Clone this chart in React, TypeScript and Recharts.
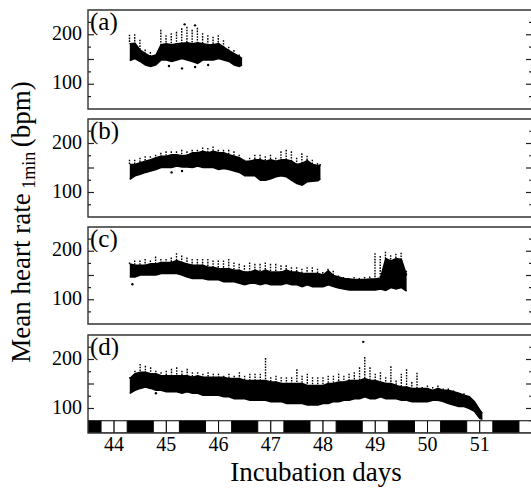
import React from 'react';
import { ComposedChart, Area, Bar, Scatter, XAxis, YAxis, ReferenceArea } from 'recharts';

const FONT = '"Liberation Serif", "Times New Roman", serif';

// panel (a)
const daysA = [44.3, 44.4, 44.5, 44.6, 44.7, 44.8, 44.9, 45.0, 45.1, 45.2, 45.3, 45.4, 45.5, 45.6, 45.7, 45.8, 45.9, 46.0, 46.1, 46.2, 46.3, 46.4, 46.45];
const lowA = [148, 152, 146, 139, 136, 139, 149, 149, 146, 149, 152, 149, 146, 142, 149, 149, 149, 152, 149, 146, 139, 136, 139];
const highA = [182, 183, 169, 162, 156, 159, 180, 182, 180, 182, 183, 184, 182, 184, 182, 180, 180, 182, 175, 168, 162, 156, 152];
const peakA = [200, 201, 190, 170, 165, 160, 210, 199, 203, 206, 213, 216, 210, 214, 203, 199, 196, 199, 189, 176, 169, 160, 152];
const outDaysA = [45.35, 45.55, 45.3, 45.55, 45.05, 45.8];
const outBpmA = [221, 219, 132, 135, 137, 139];

// panel (b)
const daysB = [44.3, 44.4, 44.5, 44.6, 44.7, 44.8, 44.9, 45.0, 45.1, 45.2, 45.3, 45.4, 45.5, 45.6, 45.7, 45.8, 45.9, 46.0, 46.1, 46.2, 46.3, 46.4, 46.5, 46.6, 46.7, 46.8, 46.9, 47.0, 47.1, 47.2, 47.3, 47.4, 47.5, 47.6, 47.7, 47.8, 47.9, 47.95];
const lowB = [127, 134, 137, 141, 144, 147, 151, 151, 151, 154, 152, 152, 151, 154, 151, 151, 151, 147, 149, 147, 144, 141, 134, 134, 134, 125, 125, 128, 132, 134, 132, 125, 118, 115, 122, 123, 124, 128];
const highB = [157, 157, 161, 164, 167, 171, 174, 174, 177, 177, 175, 176, 181, 181, 184, 181, 184, 181, 181, 177, 174, 171, 164, 164, 167, 167, 164, 167, 164, 167, 167, 164, 157, 160, 165, 157, 155, 155];
const peakB = [167, 167, 171, 174, 174, 177, 181, 184, 184, 184, 187, 184, 187, 187, 192, 191, 194, 187, 187, 187, 184, 177, 167, 171, 177, 177, 174, 177, 171, 184, 187, 184, 171, 180, 175, 167, 160, 158];
const outDaysB = [45.1, 45.3];
const outBpmB = [141, 144];

// panel (c)
const daysC = [44.3, 44.4, 44.5, 44.6, 44.7, 44.8, 44.9, 45.0, 45.1, 45.2, 45.3, 45.4, 45.5, 45.6, 45.7, 45.8, 45.9, 46.0, 46.1, 46.2, 46.3, 46.4, 46.5, 46.6, 46.7, 46.8, 46.9, 47.0, 47.1, 47.2, 47.3, 47.4, 47.5, 47.6, 47.7, 47.8, 47.9, 48.0, 48.1, 48.2, 48.3, 48.4, 48.5, 48.6, 48.7, 48.8, 48.9, 49.0, 49.1, 49.2, 49.3, 49.4, 49.5, 49.6];
const lowC = [147, 147, 151, 151, 151, 151, 154, 154, 154, 154, 151, 147, 144, 144, 144, 141, 141, 141, 137, 137, 137, 134, 131, 134, 134, 131, 134, 131, 131, 131, 134, 131, 131, 127, 131, 127, 127, 127, 131, 127, 124, 122, 120, 120, 120, 120, 120, 120, 122, 119, 125, 122, 125, 118];
const highC = [174, 171, 171, 171, 174, 174, 177, 177, 177, 181, 177, 174, 171, 171, 171, 167, 167, 164, 164, 164, 161, 161, 157, 157, 161, 157, 161, 157, 157, 157, 161, 157, 157, 154, 154, 154, 154, 151, 160, 150, 147, 144, 143, 142, 142, 142, 143, 143, 145, 185, 180, 185, 183, 150];
const peakC = [177, 181, 181, 184, 181, 189, 184, 184, 187, 196, 191, 187, 184, 184, 184, 184, 181, 181, 181, 184, 177, 174, 171, 177, 174, 174, 177, 174, 174, 171, 171, 167, 167, 164, 167, 167, 164, 157, 164, 160, 150, 147, 145, 147, 145, 147, 148, 196, 190, 199, 192, 195, 197, 160];
const outDaysC = [44.35];
const outBpmC = [132];

// panel (d)
const daysD = [44.3, 44.4, 44.5, 44.6, 44.7, 44.8, 44.9, 45.0, 45.1, 45.2, 45.3, 45.4, 45.5, 45.6, 45.7, 45.8, 45.9, 46.0, 46.1, 46.2, 46.3, 46.4, 46.5, 46.6, 46.7, 46.8, 46.9, 47.0, 47.1, 47.2, 47.3, 47.4, 47.5, 47.6, 47.7, 47.8, 47.9, 48.0, 48.1, 48.2, 48.3, 48.4, 48.5, 48.6, 48.7, 48.8, 48.9, 49.0, 49.1, 49.2, 49.3, 49.4, 49.5, 49.6, 49.7, 49.8, 49.9, 50.0, 50.1, 50.2, 50.3, 50.4, 50.5, 50.6, 50.7, 50.8, 50.9, 51.0, 51.05];
const lowD = [131, 137, 141, 144, 141, 137, 137, 134, 134, 134, 131, 134, 131, 131, 127, 127, 127, 127, 124, 124, 120, 120, 120, 117, 117, 117, 117, 114, 114, 114, 110, 110, 110, 110, 107, 107, 107, 110, 110, 114, 114, 117, 117, 120, 120, 124, 120, 120, 124, 120, 120, 120, 117, 117, 114, 114, 114, 114, 117, 117, 114, 110, 107, 104, 104, 100, 94, 80, 78];
const highD = [161, 171, 174, 174, 171, 171, 167, 167, 167, 167, 167, 167, 164, 167, 164, 164, 164, 164, 164, 161, 161, 161, 157, 157, 157, 157, 157, 154, 154, 151, 151, 151, 151, 151, 147, 147, 147, 147, 151, 151, 154, 154, 157, 157, 157, 161, 157, 157, 154, 151, 151, 147, 144, 144, 141, 141, 141, 141, 137, 141, 137, 137, 134, 131, 127, 124, 114, 97, 90];
const peakD = [164, 177, 191, 187, 184, 177, 174, 177, 181, 184, 177, 181, 174, 174, 171, 174, 171, 171, 167, 171, 167, 174, 167, 171, 171, 171, 203, 164, 167, 164, 164, 164, 180, 167, 171, 164, 164, 164, 167, 167, 171, 167, 171, 174, 184, 205, 184, 171, 174, 164, 186, 157, 171, 180, 154, 173, 144, 147, 144, 147, 141, 141, 137, 131, 131, 124, 114, 97, 90];
const outDaysD = [48.77, 44.8];
const outBpmD = [236, 131];

const dayTicks = [44, 45, 46, 47, 48, 49, 50, 51];
const bpmTicks = [75, 100, 125, 150, 175, 200, 225];
const bpmLabels = [100, 200];
const nightStarts = [43.25, 44.25, 45.25, 46.25, 47.25, 48.25, 49.25, 50.25, 51.25];
const panelNames = ['(a)', '(b)', '(c)', '(d)'];

const X_MIN = 43.5;
const X_MAX = 52;
const Y_MIN = 50;
const Y_MAX = 250;
const PLOT_LEFT = 88;
const CHART_W = 545;
const PLOT_W = 444;

const panelTops = [10, 118.5, 226.5, 334.5];
const panelHeights = [99, 98, 97, 98];

const buildRows = (days: number[], low: number[], high: number[], peak: number[]) =>
  days.map((d, i) => ({ day: d, core: [low[i], high[i]], spike: [high[i], peak[i]] }));
const buildDots = (days: number[], bpm: number[]) => days.map((d, i) => ({ day: d, bpm: bpm[i] }));

const panels = [
  { rows: buildRows(daysA, lowA, highA, peakA), dots: buildDots(outDaysA, outBpmA) },
  { rows: buildRows(daysB, lowB, highB, peakB), dots: buildDots(outDaysB, outBpmB) },
  { rows: buildRows(daysC, lowC, highC, peakC), dots: buildDots(outDaysC, outBpmC) },
  { rows: buildRows(daysD, lowD, highD, peakD), dots: buildDots(outDaysD, outBpmD) },
];

// light (white) and dark (black) blocks of the bottom strip, clipped to the x range
const darkBlocks = nightStarts
  .map((s) => [Math.max(s, X_MIN), Math.min(s + 0.5, X_MAX)])
  .filter(([a, b]) => b > a);
const lightBlocks: number[][] = [];
nightStarts.forEach((s) => {
  const a = s + 0.5;
  const mid = Math.ceil(a);
  const b = s + 1;
  [[a, mid], [mid, b]].forEach(([p, q]) => {
    const lo = Math.max(p, X_MIN);
    const hi = Math.min(q, X_MAX);
    if (hi > lo) lightBlocks.push([lo, hi]);
  });
});

const LeftTick = (props: any) => {
  const { x, y, payload } = props;
  const major = payload.value % 50 === 0;
  const ax = x + 6;
  return (
    <g>
      <line x1={ax} x2={ax + (major ? 6 : 3)} y1={y} y2={y} stroke="#222" strokeWidth={1.2} />
      {bpmLabels.includes(payload.value) && (
        <text x={x} y={y} dy={5} textAnchor="end" fontSize={20} fontFamily={FONT} fill="#000">
          {payload.value}
        </text>
      )}
    </g>
  );
};

const RightTick = (props: any) => {
  const { x, y, payload } = props;
  const major = payload.value % 50 === 0;
  return <line x1={x - (major ? 6 : 3)} x2={x} y1={y} y2={y} stroke="#222" strokeWidth={1.2} />;
};

const DayTick = (props: any) => {
  const { x, y, payload } = props;
  return (
    <text x={x} y={y} dy={14} textAnchor="middle" fontSize={20} fontFamily={FONT} fill="#000">
      {payload.value}
    </text>
  );
};

// dotted vertical streak for the scattered beats above the dense band
const Streak = (p: any) => {
  if (!p.height || Math.abs(p.height) < 0.5) return null;
  const cx = p.x + p.width / 2;
  return (
    <line x1={cx} x2={cx} y1={p.y} y2={p.y + p.height} stroke="#000" strokeWidth={1.4} strokeDasharray="1.6 1.2" />
  );
};

const Panel = ({ idx }: { idx: number }) => {
  const { rows, dots } = panels[idx];
  const last = idx === 3;
  const h = panelHeights[idx];
  const chartH = 2 + h + (last ? 40 : 2);
  return (
    <div style={{ position: 'absolute', left: 0, top: panelTops[idx] - 2 }}>
      <ComposedChart
        width={CHART_W}
        height={chartH}
        data={rows}
        margin={{ top: 1, right: CHART_W - PLOT_LEFT - PLOT_W - 1, left: 0, bottom: last ? 0 : 1 }}
      >
        <XAxis
          xAxisId="b"
          dataKey="day"
          type="number"
          domain={[X_MIN, X_MAX]}
          allowDataOverflow
          ticks={last ? dayTicks : [X_MIN]}
          interval={0}
          height={last ? 40 : 1}
          tickLine={false}
          tickSize={0}
          tickMargin={4}
          axisLine={false}
          tick={last ? <DayTick /> : false}
        />
        <XAxis
          xAxisId="t"
          orientation="top"
          dataKey="day"
          type="number"
          domain={[X_MIN, X_MAX]}
          allowDataOverflow
          height={1}
          tick={false}
          tickLine={false}
          axisLine={false}
        />
        <YAxis
          yAxisId="l"
          domain={[Y_MIN, Y_MAX]}
          allowDataOverflow
          ticks={bpmTicks}
          interval={0}
          width={PLOT_LEFT}
          tickSize={0}
          tickMargin={6}
          tickLine={false}
          axisLine={false}
          tick={<LeftTick />}
        />
        <YAxis
          yAxisId="r"
          orientation="right"
          domain={[Y_MIN, Y_MAX]}
          allowDataOverflow
          ticks={bpmTicks}
          interval={0}
          width={1}
          tickSize={0}
          tickMargin={0}
          tickLine={false}
          axisLine={false}
          tick={<RightTick />}
        />
        {last &&
          darkBlocks.map(([a, b], i) => (
            <ReferenceArea
              key={'d' + i}
              xAxisId="b"
              yAxisId="l"
              x1={a}
              x2={b}
              y1={Y_MIN}
              y2={75}
              fill="#000"
              fillOpacity={1}
              stroke="#000"
              ifOverflow="hidden"
            />
          ))}
        {last &&
          lightBlocks.map(([a, b], i) => (
            <ReferenceArea
              key={'l' + i}
              xAxisId="b"
              yAxisId="l"
              x1={a}
              x2={b}
              y1={Y_MIN}
              y2={75}
              fill="#fff"
              fillOpacity={1}
              stroke="#000"
              strokeWidth={1}
              ifOverflow="hidden"
            />
          ))}
        <Area
          xAxisId="b"
          yAxisId="l"
          dataKey="core"
          type="linear"
          stroke="#000"
          strokeWidth={1.5}
          fill="#000"
          fillOpacity={1}
          isAnimationActive={false}
          dot={false}
          activeDot={false}
        />
        <Bar xAxisId="b" yAxisId="l" dataKey="spike" fill="#000" barSize={2} shape={<Streak />} isAnimationActive={false} />
        <Scatter
          xAxisId="b"
          yAxisId="l"
          data={dots}
          dataKey="bpm"
          fill="#000"
          shape={(p: any) => <circle cx={p.cx} cy={p.cy} r={1.2} fill="#000" />}
          isAnimationActive={false}
        />
        <ReferenceArea
          xAxisId="b"
          yAxisId="l"
          x1={X_MIN}
          x2={X_MAX}
          y1={Y_MIN}
          y2={Y_MAX}
          fill="none"
          stroke="#333"
          strokeWidth={1.4}
          ifOverflow="visible"
        />
      </ComposedChart>
    </div>
  );
};

export default function App() {
  return (
    <div
      style={{
        position: 'absolute',
        left: 0,
        top: 0,
        width: 531,
        height: 494,
        overflow: 'hidden',
        background: '#fff',
      }}
    >
      {panels.map((_, i) => (
        <Panel key={i} idx={i} />
      ))}
      <svg width={531} height={494} style={{ position: 'absolute', left: 0, top: 0, pointerEvents: 'none' }}>
        {panelNames.map((n, i) => (
          <text key={n} x={90} y={panelTops[i] + 20} fontSize={25} fontFamily={FONT} fill="#000">
            {n}
          </text>
        ))}
        <text x={316} y={481} textAnchor="middle" fontSize={27} fontFamily={FONT} fill="#000">
          Incubation days
        </text>
        <text
          transform="translate(30 222) rotate(-90)"
          textAnchor="middle"
          fontSize={27}
          fontFamily={FONT}
          fill="#000"
        >
          Mean heart rate
          <tspan fontSize={18} dy={5}> 1min </tspan>
          <tspan dy={-5}>(bpm)</tspan>
        </text>
      </svg>
    </div>
  );
}
